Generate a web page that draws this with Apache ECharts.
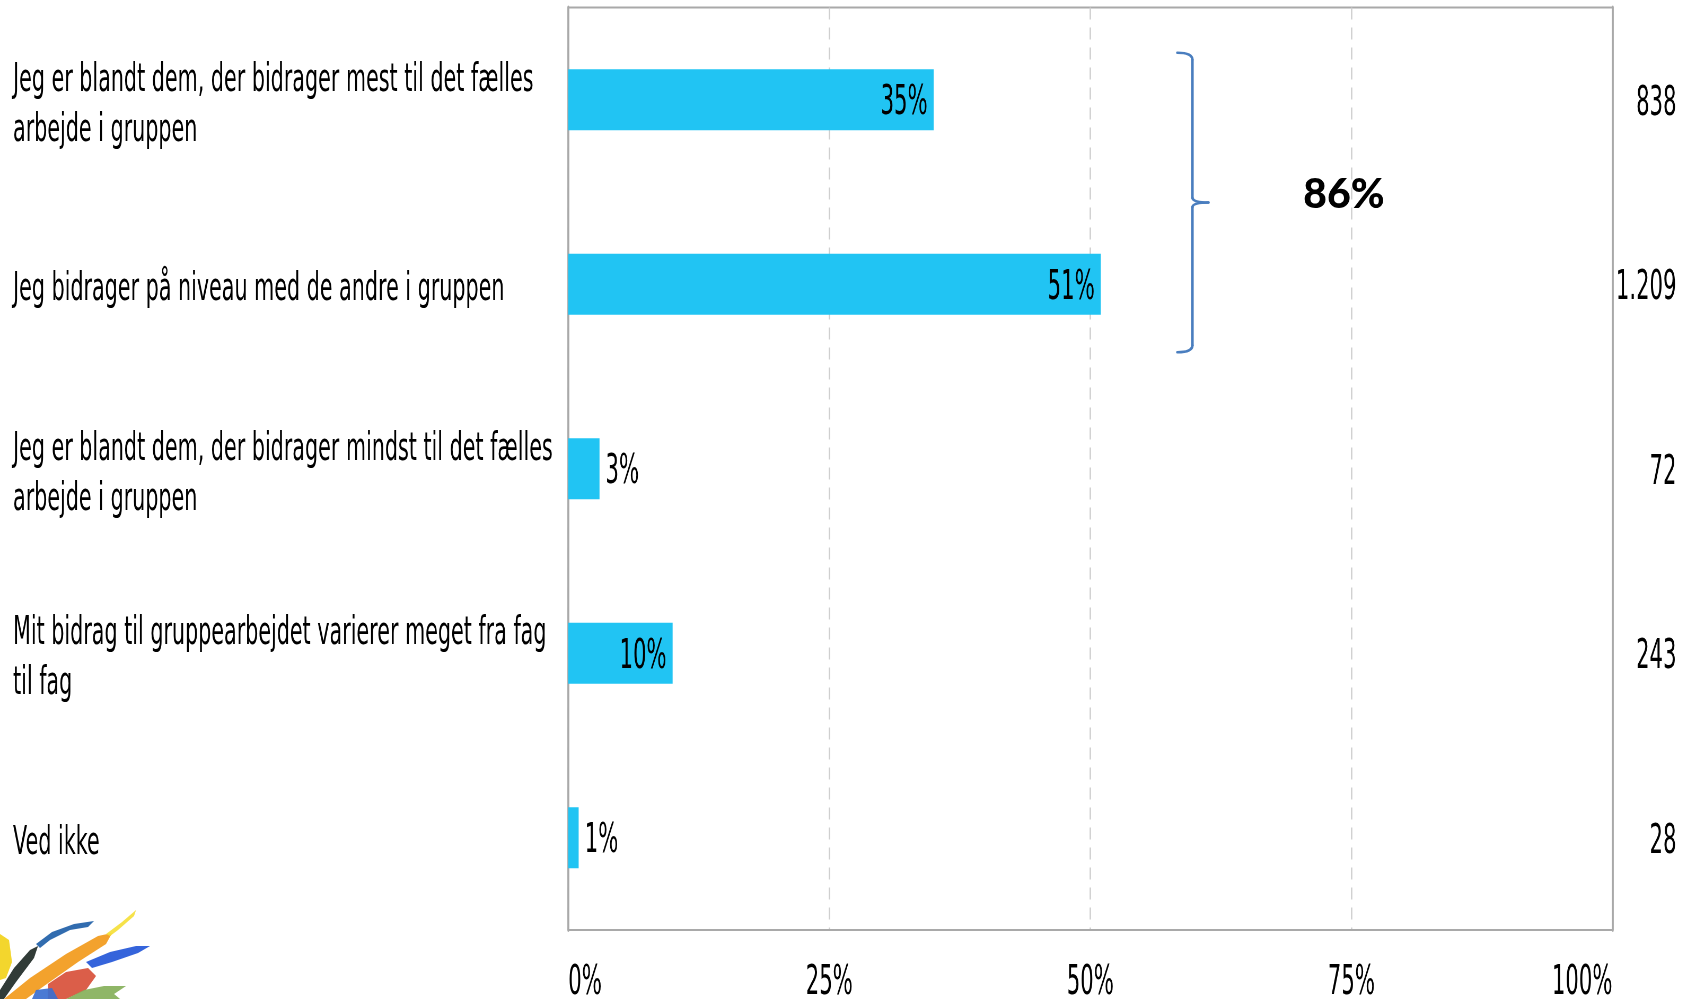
<!DOCTYPE html>
<html>
<head>
<meta charset="utf-8">
<title>Bidrag til gruppearbejdet</title>
<script src="https://cdn.jsdelivr.net/npm/echarts@6/dist/echarts.min.js"></script>
<style>
  html, body { margin: 0; padding: 0; background: #fff; overflow: hidden; }
  #wrap { width: 1690px; height: 999px; overflow: hidden; position: relative; }
  #chart { position: absolute; left: 0; top: 0; height: 999px; transform-origin: 0 0; }
</style>
</head>
<body>
<div id="wrap"><div id="chart"></div></div>
<script>
// Answer options (top to bottom)
const categories = [
  'Jeg er blandt dem, der bidrager mest til det fælles\narbejde i gruppen',
  'Jeg bidrager på niveau med de andre i gruppen',
  'Jeg er blandt dem, der bidrager mindst til det fælles\narbejde i gruppen',
  'Mit bidrag til gruppearbejdet varierer meget fra fag\ntil fag',
  'Ved ikke'
];
// Share of respondents (%)
const percents = [35, 51, 3, 10, 1];
// Number of respondents per option
const counts = [838, 1209, 72, 243, 28];
// Value-axis ticks (%)
const ticks = [0, 25, 50, 75, 100];

// The chart is drawn wide and squeezed horizontally, giving the narrow lettering.
const SX = 0.53;
const W = 1690 / SX;
const X = px => px / SX;            // screen x -> canvas x

const el = document.getElementById('chart');
el.style.width = W + 'px';
el.style.transform = 'scaleX(' + SX + ')';

const fmtCount = n => String(n).replace(/\B(?=(\d{3})+(?!\d))/g, '.');
const FONT = 'DejaVu Sans';
const GREY = '#a9a9a9';
// wrap each line in a rich token so the text sits a little below the tick centre
const lowered = v => String(v).split('\n').map(l => '{t|' + l + '}').join('\n');

const chart = echarts.init(el, null, { renderer: 'canvas', width: W, height: 999 });

chart.setOption({
  animation: false,
  backgroundColor: '#ffffff',
  grid: {
    left: X(568), right: W - X(1612), top: 7.5, bottom: 69,
    outerBoundsMode: 'none', containLabel: false,
    show: true, borderColor: GREY, borderWidth: 2, backgroundColor: 'transparent'
  },
  xAxis: {
    type: 'value',
    min: ticks[0], max: ticks[ticks.length - 1], interval: ticks[1] - ticks[0],
    axisLine: { show: true, lineStyle: { color: GREY, width: 2 } },
    axisTick: { show: false },
    splitLine: { show: true, lineStyle: { color: '#cfcfcf', width: 1.4 / SX, type: [12, 8] } },
    axisLabel: {
      formatter: '{value}%', fontFamily: FONT, fontSize: 40, color: '#000',
      margin: 34, alignMinLabel: 'left', alignMaxLabel: 'right'
    }
  },
  yAxis: [
    {
      type: 'category', data: categories, inverse: true, position: 'left',
      axisLine: { show: true, lineStyle: { color: GREY, width: 2 / SX } },
      axisTick: { show: false },
      splitLine: { show: false },
      axisLabel: {
        align: 'left', margin: X(568 - 13), color: '#000',
        formatter: lowered,
        rich: {
          t: { fontFamily: FONT, fontSize: 39, color: '#000', lineHeight: 50, padding: [12, 0, 0, 0] }
        }
      }
    },
    {
      type: 'category', data: counts.map(fmtCount), inverse: true, position: 'right',
      axisLine: { show: true, lineStyle: { color: GREY, width: 2 / SX } },
      axisTick: { show: false },
      splitLine: { show: false },
      axisLabel: {
        align: 'right', margin: X(1676 - 1612), color: '#000',
        formatter: lowered,
        rich: {
          t: { fontFamily: FONT, fontSize: 40, color: '#000', lineHeight: 40, padding: [9, 0, 0, 0] }
        }
      }
    }
  ],
  series: [{
    type: 'bar',
    yAxisIndex: 0,
    barWidth: 61,
    itemStyle: { color: '#21c4f3' },
    data: percents.map(v => ({
      value: v,
      label: { position: v >= 10 ? 'insideRight' : 'right' }
    })),
    label: {
      show: true, formatter: '{c}%', fontFamily: FONT, fontSize: 40,
      color: '#000', distance: X(6), offset: [0, 4]
    }
  }]
});

// Bracket grouping the first two answers, with their combined share
const yTop = chart.convertToPixel({ yAxisIndex: 0 }, 0);
const yBot = chart.convertToPixel({ yAxisIndex: 0 }, 1);
const bTop = yTop - 47, bBot = yBot + 68, bMid = (bTop + bBot) / 2;
const bx = 1192, hook = 15, tip = 16;
const combined = percents[0] + percents[1];
const braceStyle = { fill: null, stroke: '#4a7ebf', lineWidth: 2.6, lineCap: 'round' };
const curve = (x1, y1, cx, cy, x2, y2) => ({
  type: 'bezierCurve',
  shape: { x1: x1, y1: y1, cpx1: cx, cpy1: cy, x2: x2, y2: y2 },
  style: braceStyle
});
const seg = (x1, y1, x2, y2) => ({
  type: 'line', shape: { x1: x1, y1: y1, x2: x2, y2: y2 }, style: braceStyle
});
const brace = [
  curve(bx - hook, bTop, bx, bTop, bx, bTop + 7),
  seg(bx, bTop + 7, bx, bMid - 5),
  curve(bx, bMid - 5, bx, bMid, bx + tip, bMid),
  curve(bx + tip, bMid, bx, bMid, bx, bMid + 5),
  seg(bx, bMid + 5, bx, bBot - 7),
  curve(bx, bBot - 7, bx, bBot, bx - hook, bBot)
];

// Paint-stroke emblem in the lower left corner
const strokes = [
  { c: '#f2d21b', p: [[0, 934], [9, 940], [12, 962], [6, 978], [0, 980]] },
  { c: '#1f2a26', p: [[0, 990], [14, 968], [30, 950], [38, 946], [34, 958], [16, 982], [4, 999], [0, 999]] },
  { c: '#1f5fa8', p: [[36, 944], [52, 932], [74, 924], [94, 921], [88, 927], [70, 930], [50, 940], [40, 948]] },
  { c: '#f29a1b', p: [[4, 999], [30, 978], [66, 954], [98, 936], [112, 933], [106, 944], [78, 962], [44, 986], [26, 999]] },
  { c: '#f5e03a', p: [[106, 934], [122, 922], [136, 910], [134, 916], [118, 930], [110, 936]] },
  { c: '#2457d8', p: [[86, 962], [110, 952], [136, 946], [150, 946], [138, 953], [112, 962], [92, 968]] },
  { c: '#d8503a', p: [[48, 984], [66, 972], [88, 968], [96, 976], [86, 990], [64, 1000], [48, 999]] },
  { c: '#86b05a', p: [[66, 999], [84, 990], [104, 986], [126, 986], [114, 994], [120, 999]] },
  { c: '#3b6fd0', p: [[32, 999], [36, 990], [52, 988], [58, 999]] }
];

chart.setOption({
  graphic: [
    {
      type: 'group', x: 0, y: 0, scaleX: 1 / SX, silent: true,
      children: brace.concat([
        {
          type: 'text', x: 1343.5, y: bMid - 8,
          style: {
            text: combined + '%', font: '900 41px Lato', fill: '#000',
            textAlign: 'center', textVerticalAlign: 'middle'
          }
        }
      ]).concat(strokes.map(s => ({
        type: 'polygon', shape: { points: s.p },
        style: { fill: s.c, opacity: 0.92 }
      })))
    }
  ]
});
</script>
</body>
</html>
